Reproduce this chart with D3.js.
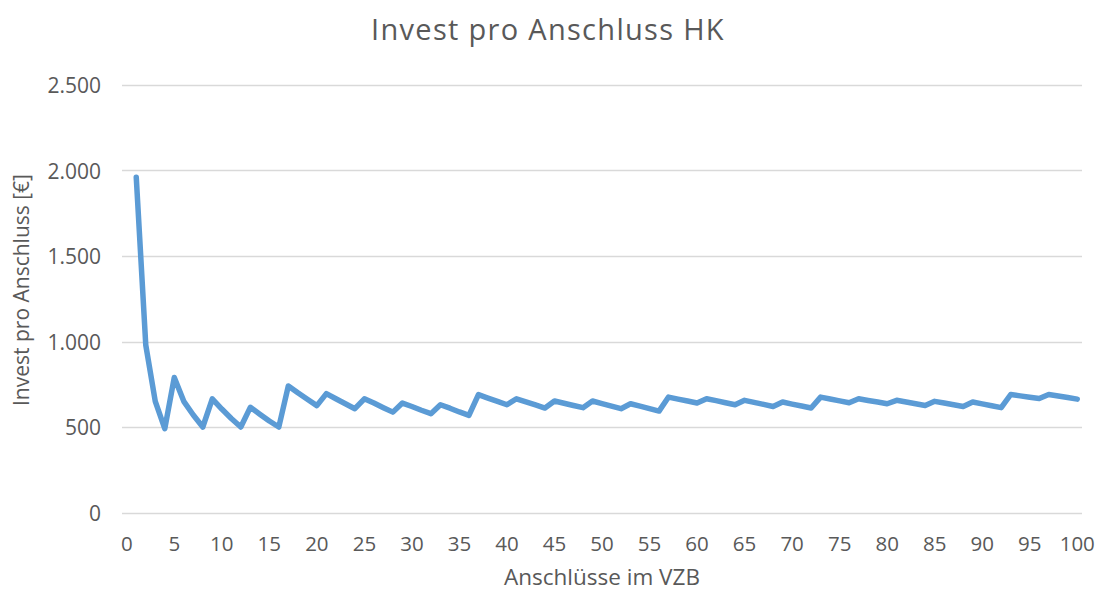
<!DOCTYPE html>
<html>
<head>
<meta charset="utf-8">
<script src="https://cdn.jsdelivr.net/npm/d3@7"></script>
<style>
  html, body { margin: 0; padding: 0; background: #fff; }
  svg { display: block; font-family: "Open Sans", "Noto Sans", sans-serif; }
</style>
</head>
<body>
<svg id="chart" width="1097" height="592"></svg>
<script>
const chartTitle = "Invest pro Anschluss HK";
const xAxisTitle = "Anschlüsse im VZB";
const yAxisTitle = "Invest pro Anschluss [€]";

// categories 0..100 (category 0 has no value)
const categories = d3.range(0, 101);
const xTickLabels = d3.range(0, 101, 5);
const yTicks = [0, 500, 1000, 1500, 2000, 2500];

// values for categories 1..100
const values = [
  1960, 980, 650, 490,
  790, 650, 570, 500,
  665, 605, 550, 500,
  615, 575, 535, 500,
  740, 700, 662, 625,
  695, 665, 636, 607,
  665, 640, 613, 587,
  640, 620, 598, 578,
  630, 610, 588, 568,
  689, 669, 650, 630,
  665, 647, 629, 611,
  652, 639, 626, 613,
  652, 637, 622, 607,
  636, 622, 607, 593,
  675, 663, 652, 640,
  665, 654, 642, 630,
  656, 644, 632, 620,
  646, 634, 623, 611,
  675, 664, 653, 642,
  665, 655, 646, 636,
  656, 646, 636, 626,
  650, 640, 630, 620,
  646, 635, 624, 613,
  690, 682, 674, 667,
  690, 681, 672, 663
];

const data = values.map((v, i) => ({ cat: i + 1, value: v }));

const svg = d3.select("#chart");
const plot = { left: 122, right: 1082, top: 85, bottom: 512.5 };

const x = d3.scaleBand()
  .domain(categories)
  .range([plot.left, plot.right])
  .padding(0);
const xc = c => x(c) + x.bandwidth() / 2;

const y = d3.scaleLinear()
  .domain([0, 2500])
  .range([plot.bottom, plot.top]);

const textColor = "#595959";

// gridlines
svg.append("g")
  .selectAll("line")
  .data(yTicks)
  .join("line")
  .attr("x1", plot.left)
  .attr("x2", plot.right)
  .attr("y1", d => Math.round(y(d)) + 0.5)
  .attr("y2", d => Math.round(y(d)) + 0.5)
  .attr("stroke", "#d9d9d9")
  .attr("stroke-width", 1.3);

// y axis labels
const fmt = d3.formatLocale({ decimal: ",", thousands: ".", grouping: [3], currency: ["", "€"] }).format(",d");
const yAxis = d3.axisLeft(y).tickValues(yTicks).tickFormat(fmt).tickSize(0).tickPadding(0);
const gy = svg.append("g")
  .attr("transform", `translate(${plot.left - 21},0)`)
  .call(yAxis);
gy.select(".domain").remove();
gy.selectAll("text")
  .attr("fill", textColor)
  .style("font-size", "21px")
  .style("font-family", "'Open Sans', sans-serif")
  .attr("dy", "0.36em");

// x axis labels
const xAxis = d3.axisBottom(x).tickValues(xTickLabels).tickSize(0).tickPadding(0);
const gx = svg.append("g")
  .attr("transform", `translate(0,551)`)
  .call(xAxis);
gx.select(".domain").remove();
gx.selectAll("text")
  .attr("fill", textColor)
  .style("font-size", "20.5px")
  .style("font-family", "'Open Sans', sans-serif")
  .attr("y", 0)
  .attr("dy", "0");

// line
const line = d3.line()
  .x(d => xc(d.cat))
  .y(d => y(d.value));

svg.append("path")
  .datum(data)
  .attr("fill", "none")
  .attr("stroke", "#5b9bd5")
  .attr("stroke-width", 5.5)
  .attr("stroke-linejoin", "round")
  .attr("stroke-linecap", "round")
  .attr("d", line);

// title
svg.append("text")
  .attr("x", 548)
  .attr("y", 40)
  .attr("text-anchor", "middle")
  .attr("fill", textColor)
  .style("font-size", "29px")
  .style("letter-spacing", "1.3px")
  .text(chartTitle);

// x axis title
svg.append("text")
  .attr("x", (plot.left + plot.right) / 2)
  .attr("y", 585)
  .attr("text-anchor", "middle")
  .attr("fill", textColor)
  .style("font-size", "22.5px")
  .text(xAxisTitle);

// y axis title
svg.append("text")
  .attr("transform", `translate(29,290) rotate(-90)`)
  .attr("text-anchor", "middle")
  .attr("fill", textColor)
  .style("font-size", "21px")
  .text(yAxisTitle);
</script>
</body>
</html>
